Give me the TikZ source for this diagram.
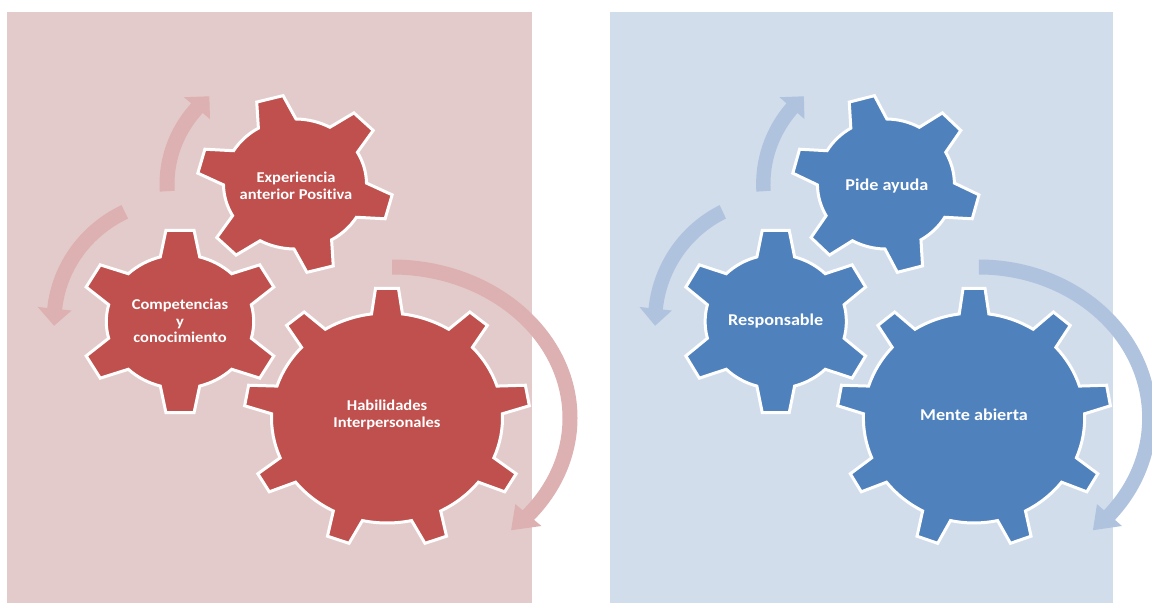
\documentclass[tikz,border=0pt]{standalone}
\usepackage{fontspec}
\setmainfont[Ligatures=NoCommon]{Carlito}
\definecolor{pinkbg}{HTML}{E4CBCB}
\definecolor{redgear}{HTML}{C0504D}
\definecolor{pinkarrow}{HTML}{DDB0B1}
\definecolor{bluebg}{HTML}{D2DDEC}
\definecolor{bluegear}{HTML}{4F81BD}
\definecolor{bluearrow}{HTML}{B0C3DE}
\tikzset{
  gearshape/.style={fill=#1, draw=white, line width=3pt, line join=miter},
  geartext/.style={text=white, font=\bfseries\fontsize{#1}{16.5}\selectfont, align=center, xscale=1.1, inner sep=0pt},
}
% gear: cx cy R r n phase tiphalfangle basehalfangle style
\newcommand{\gearpath}[9]{%
  \path[#9, shift={(#1,#2)}, xscale=1.1] ({#6-#8}:#4)
    \foreach \k [evaluate=\k as \th using {#6+(\k-1)*360/#5}] in {1,...,#5}
      { -- ({\th-#7}:#3) -- ({\th+#7}:#3) -- ({\th+#8}:#4)
        arc[start angle={\th+#8}, end angle={\th+360/#5-#8}, radius=#4] }
    -- cycle;}
% circular arrow: cx cy rx ry start end dir colour
\newcommand{\circarrow}[8]{%
  \pgfmathsetmacro\rxo{#3+7.5}\pgfmathsetmacro\ryo{#4+7.5}%
  \pgfmathsetmacro\rxi{#3-7.5}\pgfmathsetmacro\ryi{#4-7.5}%
  \pgfmathsetmacro\rxh{#3+17}\pgfmathsetmacro\ryh{#4+17}%
  \pgfmathsetmacro\rxj{#3-17}\pgfmathsetmacro\ryj{#4-17}%
  \pgfmathsetmacro\tend{#6+#7*8}%
  \fill[#8] ({#1+\rxo*cos(#5)},{#2+\ryo*sin(#5)})
    arc[start angle=#5, end angle=#6, x radius=\rxo, y radius=\ryo]
    -- ({#1+\rxh*cos(#6)},{#2+\ryh*sin(#6)})
    -- ({#1+#3*cos(\tend)},{#2+#4*sin(\tend)})
    -- ({#1+\rxj*cos(#6)},{#2+\ryj*sin(#6)})
    -- ({#1+\rxi*cos(#6)},{#2+\ryi*sin(#6)})
    arc[start angle=#6, end angle=#5, x radius=\rxi, y radius=\ryi]
    -- cycle;}
% panel: bg gear arrow prefix bigtext lefttext toptext fontsize
\newcommand{\panel}[8]{%
  \fill[#1] (7,0) rectangle (532,591);
  \circarrow{392}{185}{178}{151}{90}{-40}{-1}{#3}
  \circarrow{180}{281.5}{126}{122}{116}{174}{1}{#3}
  \circarrow{295}{419}{128}{118}{183.5}{140}{-1}{#3}
  \gearpath{387}{185}{130}{105}{9}{90}{4.6}{7.7}{gearshape=#2}
  \gearpath{180}{281.5}{92}{67}{6}{90}{8}{15.5}{gearshape=#2}
  \gearpath{295}{419}{89}{65}{6}{105}{8}{15.8}{gearshape=#2}
  \node[geartext=#8] (#4big) at (387,188) {#5};
  \node[geartext=#8] (#4left) at (180,282) {#6};
  \node[geartext=#8] (#4top) at (296,417) {#7};
}
\begin{document}
\begin{tikzpicture}[x=1pt,y=1pt]
\useasboundingbox (0,0) rectangle (1152,603);
\fill[white] (0,0) rectangle (1152,603);
\begin{scope}
  \panel{pinkbg}{redgear}{pinkarrow}{r}{Habilidades\\Interpersonales}{Competencias\\y\\conocimiento}{Experiencia\\anterior Positiva}{15}
\end{scope}
\begin{scope}[shift={(603.3,0)}, xscale=0.958]
  \panel{bluebg}{bluegear}{bluearrow}{b}{Mente abierta}{Responsable}{Pide ayuda}{16.5}
\end{scope}
\end{tikzpicture}
\end{document}
